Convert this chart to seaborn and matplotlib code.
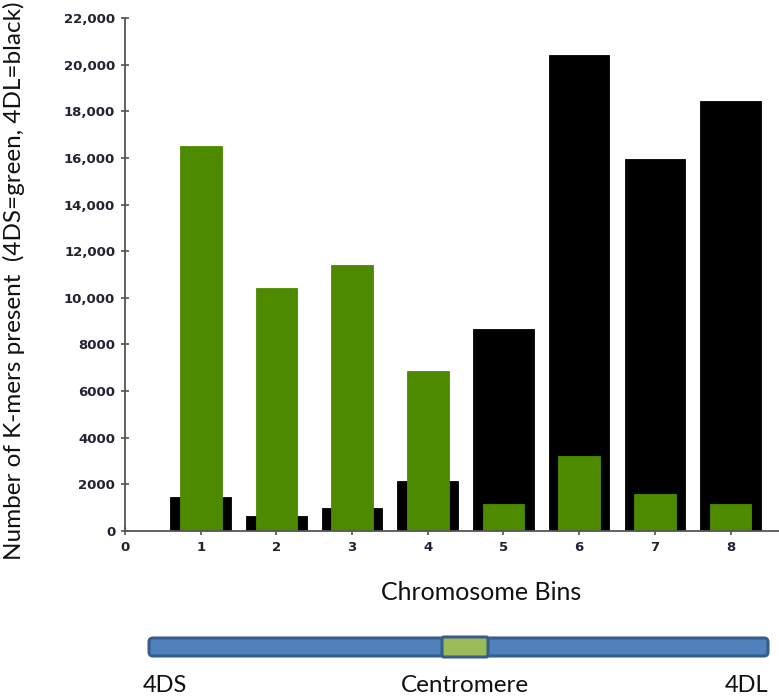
import matplotlib
matplotlib.use("Agg")
import matplotlib.pyplot as plt
import seaborn as sns
import pandas as pd
from matplotlib.patches import FancyBboxPatch
from matplotlib.ticker import FuncFormatter

# Data
bins = [1, 2, 3, 4, 5, 6, 7, 8]
kmers_4dl_black = [1450, 650, 1000, 2150, 8650, 20400, 15950, 18450]
kmers_4ds_green = [16500, 10400, 11400, 6850, 1150, 3200, 1600, 1150]
x_ticks = [0, 1, 2, 3, 4, 5, 6, 7, 8]
y_ticks = list(range(0, 22001, 2000))

df = pd.DataFrame({"bin": bins, "dl": kmers_4dl_black, "ds": kmers_4ds_green})

sns.set_style("ticks")
plt.rcParams["font.family"] = ["DejaVu Sans"]

W, H = 779, 697
fig = plt.figure(figsize=(W / 100, H / 100), dpi=100)

# main axes: x from 125px to right edge, y from 531px (0) to 18px (22000)
ax = fig.add_axes([125 / W, (H - 531) / H, (W - 125) / W, 513 / H])

# black (4DL) wide bars behind, green (4DS) narrower bars in front
sns.barplot(data=df, x="bin", y="dl", native_scale=True, width=0.8,
            color="black", saturation=1, edgecolor="black", linewidth=0.6, ax=ax)
sns.barplot(data=df, x="bin", y="ds", native_scale=True, width=0.55,
            color="#4E8A00", saturation=1, edgecolor="#4E8A00", linewidth=0.6, ax=ax)

ax.set_xlim(0, 8.64)
ax.set_ylim(0, 22000)
ax.set_xticks(x_ticks)
ax.set_yticks(y_ticks)
ax.yaxis.set_major_formatter(FuncFormatter(lambda v, p: f"{int(v):,}" if v >= 10000 else f"{int(v)}"))

sns.despine(ax=ax)
for s in ["left", "bottom"]:
    ax.spines[s].set_color("#555555")
    ax.spines[s].set_linewidth(1.3)

ax.tick_params(axis="both", direction="inout", length=6, width=1.1, color="#444444",
               labelsize=9.5, labelcolor="#222233", pad=4)
for lab in ax.get_xticklabels() + ax.get_yticklabels():
    lab.set_fontweight("bold")

ax.set_ylabel("")
ax.set_xlabel("")
fig.text(14 / W, 1 - 281 / H, "Number of K-mers present  (4DS=green, 4DL=black)",
         rotation=90, ha="center", va="center", fontsize=17.5, family="Lato", color="#111111")
fig.text(481 / W, 1 - 593 / H, "Chromosome Bins",
         ha="center", va="center", fontsize=18, family="Lato", color="#111111")

# chromosome diagram below the chart, in pixel space
dax = fig.add_axes([0, 0, 1, 1], facecolor="none")
dax.set_xlim(0, W)
dax.set_ylim(H, 0)
dax.axis("off")

chrom = FancyBboxPatch((149, 638), 619, 18, boxstyle="round,pad=0,rounding_size=4",
                       facecolor="#4F81BD", edgecolor="#385D8A", linewidth=2.2)
dax.add_patch(chrom)
cen = FancyBboxPatch((442, 637), 46, 20, boxstyle="round,pad=0,rounding_size=2",
                     facecolor="#9BBB59", edgecolor="#385D8A", linewidth=2.2)
dax.add_patch(cen)

dax.text(143, 686, "4DS", fontsize=17, family="Lato", color="#111111", va="center", ha="left")
dax.text(465, 686, "Centromere", fontsize=17.5, family="Lato", color="#111111", va="center", ha="center")
dax.text(768, 686, "4DL", fontsize=17, family="Lato", color="#111111", va="center", ha="right")

fig.savefig("out.png", dpi=100)
